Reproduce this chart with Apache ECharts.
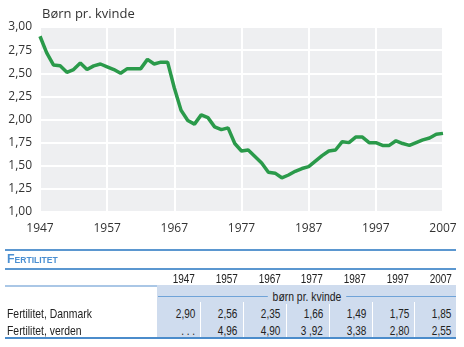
<!DOCTYPE html>
<html>
<head>
<meta charset="utf-8">
<script src="https://cdn.jsdelivr.net/npm/echarts@6/dist/echarts.min.js"></script>
<style>
  html, body { margin:0; padding:0; background:#fff; }
  #wrap { position:relative; width:464px; height:347px; overflow:hidden; }
  #chart { position:absolute; left:0; top:0; width:464px; height:347px; }
  .t { position:absolute; font-family:"Liberation Sans", Arial, sans-serif; font-size:13px; color:#222; white-space:nowrap; line-height:15px; }
  .hl { position:absolute; }
</style>
</head>
<body>
<div id="wrap">
  <div id="chart"></div>
  <div id="table"></div>
</div>
<script>
// ---- chart data ----
const years = [];
for (let y = 1947; y <= 2007; y++) years.push(String(y));
const fertility = [
  2.90, 2.72, 2.59, 2.58, 2.51, 2.54, 2.61, 2.54, 2.58, 2.60,
  2.57, 2.54, 2.50, 2.55, 2.55, 2.55, 2.65, 2.60, 2.62, 2.62,
  2.34, 2.10, 1.99, 1.95, 2.05, 2.02, 1.92, 1.89, 1.91, 1.74,
  1.66, 1.67, 1.60, 1.53, 1.43, 1.42, 1.37, 1.40, 1.44, 1.47,
  1.49, 1.55, 1.61, 1.66, 1.67, 1.76, 1.75, 1.81, 1.81, 1.75,
  1.75, 1.72, 1.72, 1.77, 1.74, 1.72, 1.75, 1.78, 1.80, 1.84,
  1.85
];
const yTitle = "Børn pr. kvinde";

// ---- table data ----
const tableTitle = "Fertilitet";
const tableYears = ["1947", "1957", "1967", "1977", "1987", "1997", "2007"];
const tableUnit = "børn pr. kvinde";
const rowLabels = ["Fertilitet, Danmark", "Fertilitet, verden"];
const tableDK = ["2,90", "2,56", "2,35", "1,66", "1,49", "1,75", "1,85"];
const tableWorld = [". . .", "4,96", "4,90", "3 ,92", "3,38", "2,80", "2,55"];

const fontUI = '"Open Sans", "Noto Sans", sans-serif';
const chart = echarts.init(document.getElementById('chart'), null, { renderer: 'canvas' });
chart.setOption({
  animation: false,
  backgroundColor: '#ffffff',
  title: {
    text: yTitle, left: 37, top: 3,
    textStyle: { fontFamily: fontUI, fontSize: 13, fontWeight: 'normal', color: '#333' }
  },
  grid: {
    left: 40, right: 21, top: 27, height: 185,
    show: true, backgroundColor: '#eeeff1', borderWidth: 0
  },
  xAxis: {
    type: 'category', data: years, boundaryGap: false,
    axisLine: { show: false }, axisTick: { show: false },
    axisLabel: { interval: 9, margin: 11, fontFamily: fontUI, fontSize: 12, color: '#333' },
    splitLine: { show: true, interval: 9, lineStyle: { color: '#ffffff', width: 2 } }
  },
  yAxis: {
    type: 'value', min: 1, max: 3, interval: 0.25,
    axisLine: { show: false }, axisTick: { show: false },
    axisLabel: {
      margin: 8, fontFamily: fontUI, fontSize: 12, color: '#333',
      formatter: v => v.toFixed(2).replace('.', ',')
    },
    splitLine: { show: true, lineStyle: { color: '#ffffff', width: 2 } }
  },
  series: [{
    type: 'line', data: fertility, showSymbol: false, symbol: 'none',
    lineStyle: { color: '#2a9a4a', width: 3.5 }
  }]
});

// ---- table (HTML) ----
const T = document.getElementById('table');
const SX = 'scaleX(0.77)';
function el(cls, css, txt) {
  const d = document.createElement('div');
  d.className = cls;
  Object.assign(d.style, css);
  if (txt !== undefined) d.textContent = txt;
  T.appendChild(d);
  return d;
}
// shaded block
el('hl', { left:'157px', top:'285px', width:'299px', height:'52px', background:'#cfdcee' });
// column separators
const rightEdges = [195, 237.5, 280.5, 323, 366, 409, 451.7];
for (let i = 0; i < rightEdges.length - 1; i++) {
  const x = Math.round((rightEdges[i] + rightEdges[i+1]) / 2 - 16);
  el('hl', { left: x + 'px', top:'302px', width:'1px', height:'35px', background:'#ffffff' });
}
// lines
el('hl', { left:'5px', top:'249px', width:'451px', height:'2px', background:'#5b97d0' });
el('hl', { left:'5px', top:'268px', width:'451px', height:'2px', background:'#5b97d0' });
el('hl', { left:'5px', top:'285px', width:'152px', height:'2px', background:'#aac7e6' });
el('hl', { left:'158px', top:'296px', width:'298px', height:'1px', background:'#6fa3d8' });
el('hl', { left:'5px', top:'337px', width:'451px', height:'2px', background:'#4b8ccb' });
// title
el('t', { left:'7px', top:'251px', fontSize:'13px', fontWeight:'bold',
          fontVariant:'small-caps', color:'#4a8fd2', transform:'scaleX(0.95)', transformOrigin:'left center' }, tableTitle);
// unit label with gap
el('t', { left:'306.5px', top:'289px', transform:'translateX(-50%) scaleX(0.8)', background:'#cfdcee', padding:'0 6px' }, tableUnit);
// header years & values
tableYears.forEach((yv, i) => {
  const r = (464 - rightEdges[i]) + 'px';
  const o = { transform: SX, transformOrigin: 'right center' };
  el('t', Object.assign({ right: r, top:'271px' }, o), yv);
  el('t', Object.assign({ right: r, top:'306px' }, o), tableDK[i]);
  el('t', Object.assign({ right: r, top:'323px' }, o), tableWorld[i]);
});
el('t', { left:'7px', top:'306px', transform: 'scaleX(0.8)', transformOrigin:'left center' }, rowLabels[0]);
el('t', { left:'7px', top:'323px', transform: 'scaleX(0.8)', transformOrigin:'left center' }, rowLabels[1]);
</script>
</body>
</html>
